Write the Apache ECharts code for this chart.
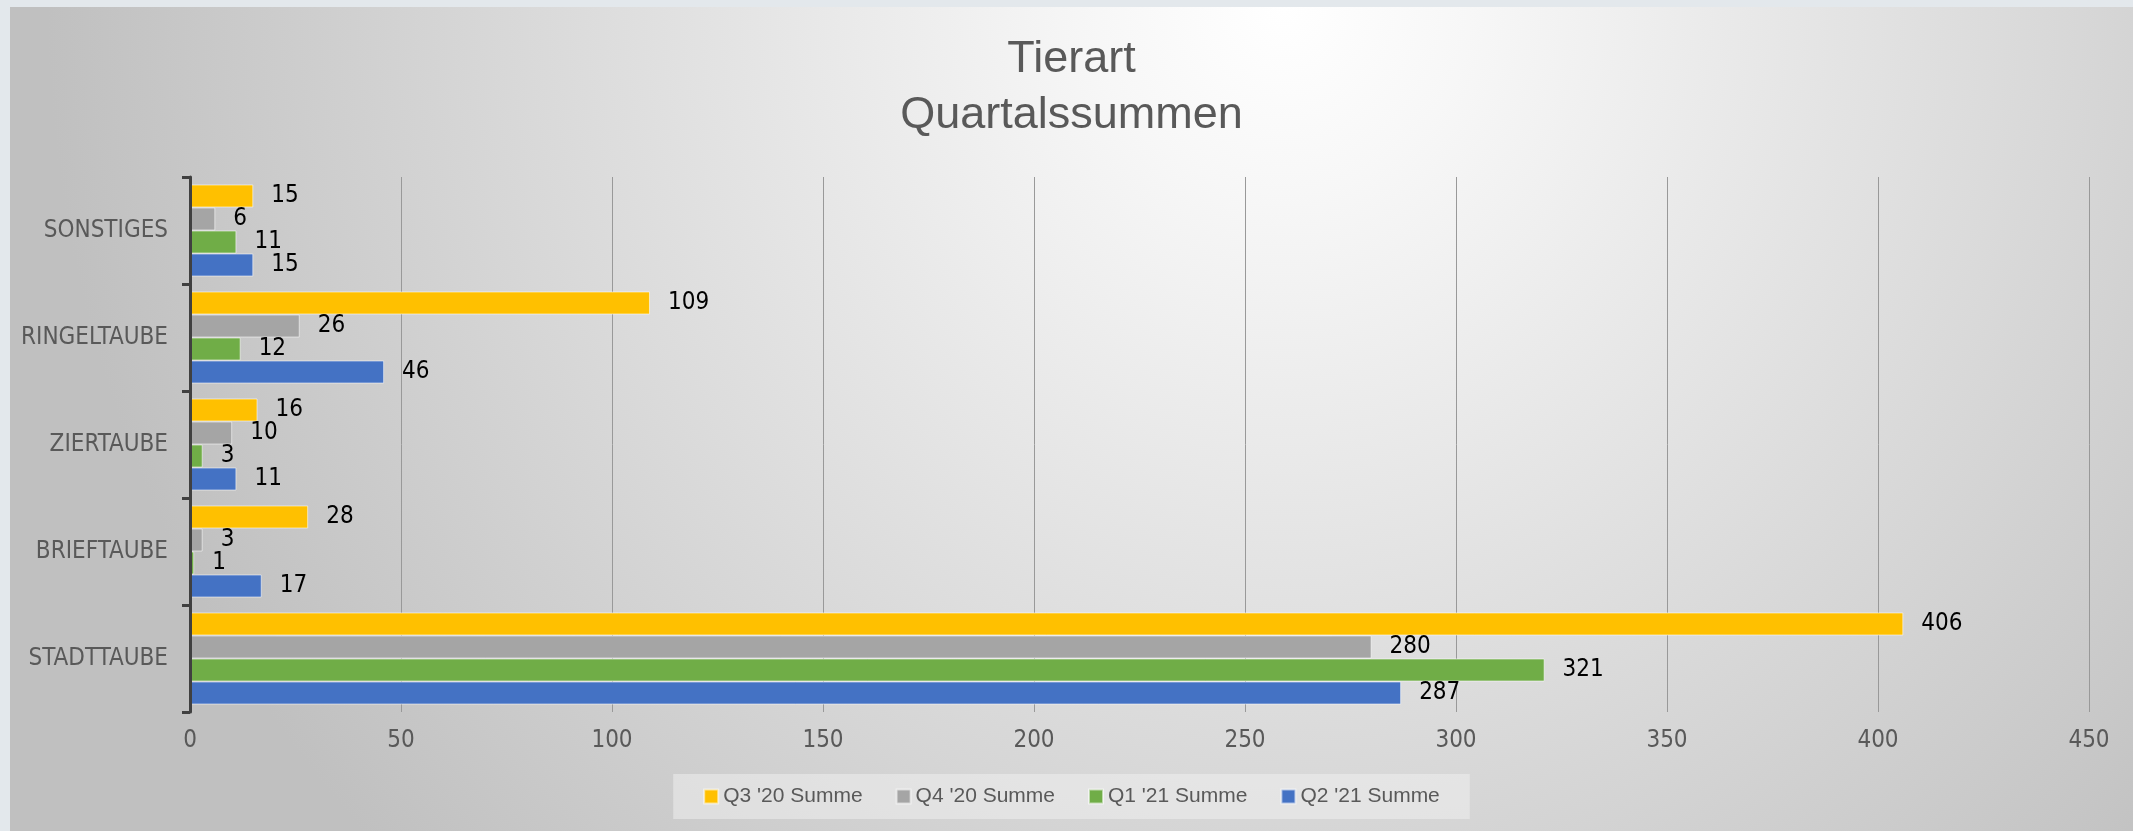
<!DOCTYPE html>
<html>
<head>
<meta charset="utf-8">
<script src="https://cdn.jsdelivr.net/npm/echarts@6/dist/echarts.min.js"></script>
<style>
  html, body { margin: 0; padding: 0; background: #e3e8ec; }
  #chart { position: absolute; left: 10px; top: 7px; width: 2123px; height: 824px; }
</style>
</head>
<body>
<div id="chart"></div>
<script>
// categories bottom -> top (as the value axis draws them)
const categories = ['STADTTAUBE', 'BRIEFTAUBE', 'ZIERTAUBE', 'RINGELTAUBE', 'SONSTIGES'];
const seriesNames = ["Q3 '20 Summe", "Q4 '20 Summe", "Q1 '21 Summe", "Q2 '21 Summe"];
const q3_20 = [406, 28, 16, 109, 15];
const q4_20 = [280, 3, 10, 26, 6];
const q1_21 = [321, 1, 3, 12, 11];
const q2_21 = [287, 17, 11, 46, 15];
const colors = ['#FFC000', '#A5A5A5', '#70AD47', '#4472C4'];

const narrow = "'Liberation Sans Narrow', 'DejaVu Sans Condensed', 'Liberation Sans', sans-serif";
const regular = "'Liberation Sans', Arial, sans-serif";

const chart = echarts.init(document.getElementById('chart'));

const mkSeries = (name, data, color) => ({
  name,
  type: 'bar',
  data,
  barGap: '0%',
  barCategoryGap: '14%',
  itemStyle: {
    color,
    borderColor: 'rgba(255,255,255,0.55)',
    borderWidth: 1,
  },
  label: {
    show: true,
    position: 'right',
    distance: 18,
    color: '#000',
    fontFamily: narrow,
    fontSize: 24,
  },
});

const option = {
  animation: false,
  backgroundColor: {
    type: 'radial',
    x: 0.6,
    y: 0.0,
    r: 1.5,
    colorStops: [
      { offset: 0, color: '#ffffff' },
      { offset: 0.15, color: '#f7f7f7' },
      { offset: 1, color: '#c0c0c0' },
    ],
  },
  color: colors,
  title: {
    text: 'Tierart\nQuartalssummen',
    left: 'center',
    top: 20,
    textStyle: {
      fontFamily: regular,
      fontSize: 45,
      lineHeight: 56,
      fontWeight: 'normal',
      color: '#595959',
    },
  },
  legend: {
    data: seriesNames,
    left: 'center',
    top: 767,
    icon: 'rect',
    itemWidth: 14,
    itemHeight: 14,
    itemGap: 33,
    padding: [12, 30],
    backgroundColor: 'rgba(242,242,242,0.5)',
    textStyle: {
      fontFamily: regular,
      fontSize: 21,
      color: '#595959',
    },
  },
  grid: {
    left: 180,
    right: 44,
    top: 170,
    bottom: 119,
  },
  xAxis: {
    type: 'value',
    min: 0,
    max: 450,
    interval: 50,
    axisLine: { show: false },
    axisTick: { show: false },
    splitLine: { show: true, lineStyle: { color: '#999999', width: 1 } },
    axisLabel: {
      margin: 17,
      color: '#595959',
      fontFamily: narrow,
      fontSize: 24,
    },
  },
  yAxis: {
    type: 'category',
    data: categories,
    z: 5,
    axisLine: { show: true, lineStyle: { color: '#404040', width: 3 } },
    axisTick: { show: true, length: 8, lineStyle: { color: '#404040', width: 3 } },
    splitLine: { show: false },
    axisLabel: {
      margin: 22,
      color: '#595959',
      fontFamily: narrow,
      fontSize: 24,
    },
  },
  series: [
    mkSeries(seriesNames[0], q3_20, colors[0]),
    mkSeries(seriesNames[1], q4_20, colors[1]),
    mkSeries(seriesNames[2], q1_21, colors[2]),
    mkSeries(seriesNames[3], q2_21, colors[3]),
  ],
};

chart.setOption(option);
</script>
</body>
</html>
